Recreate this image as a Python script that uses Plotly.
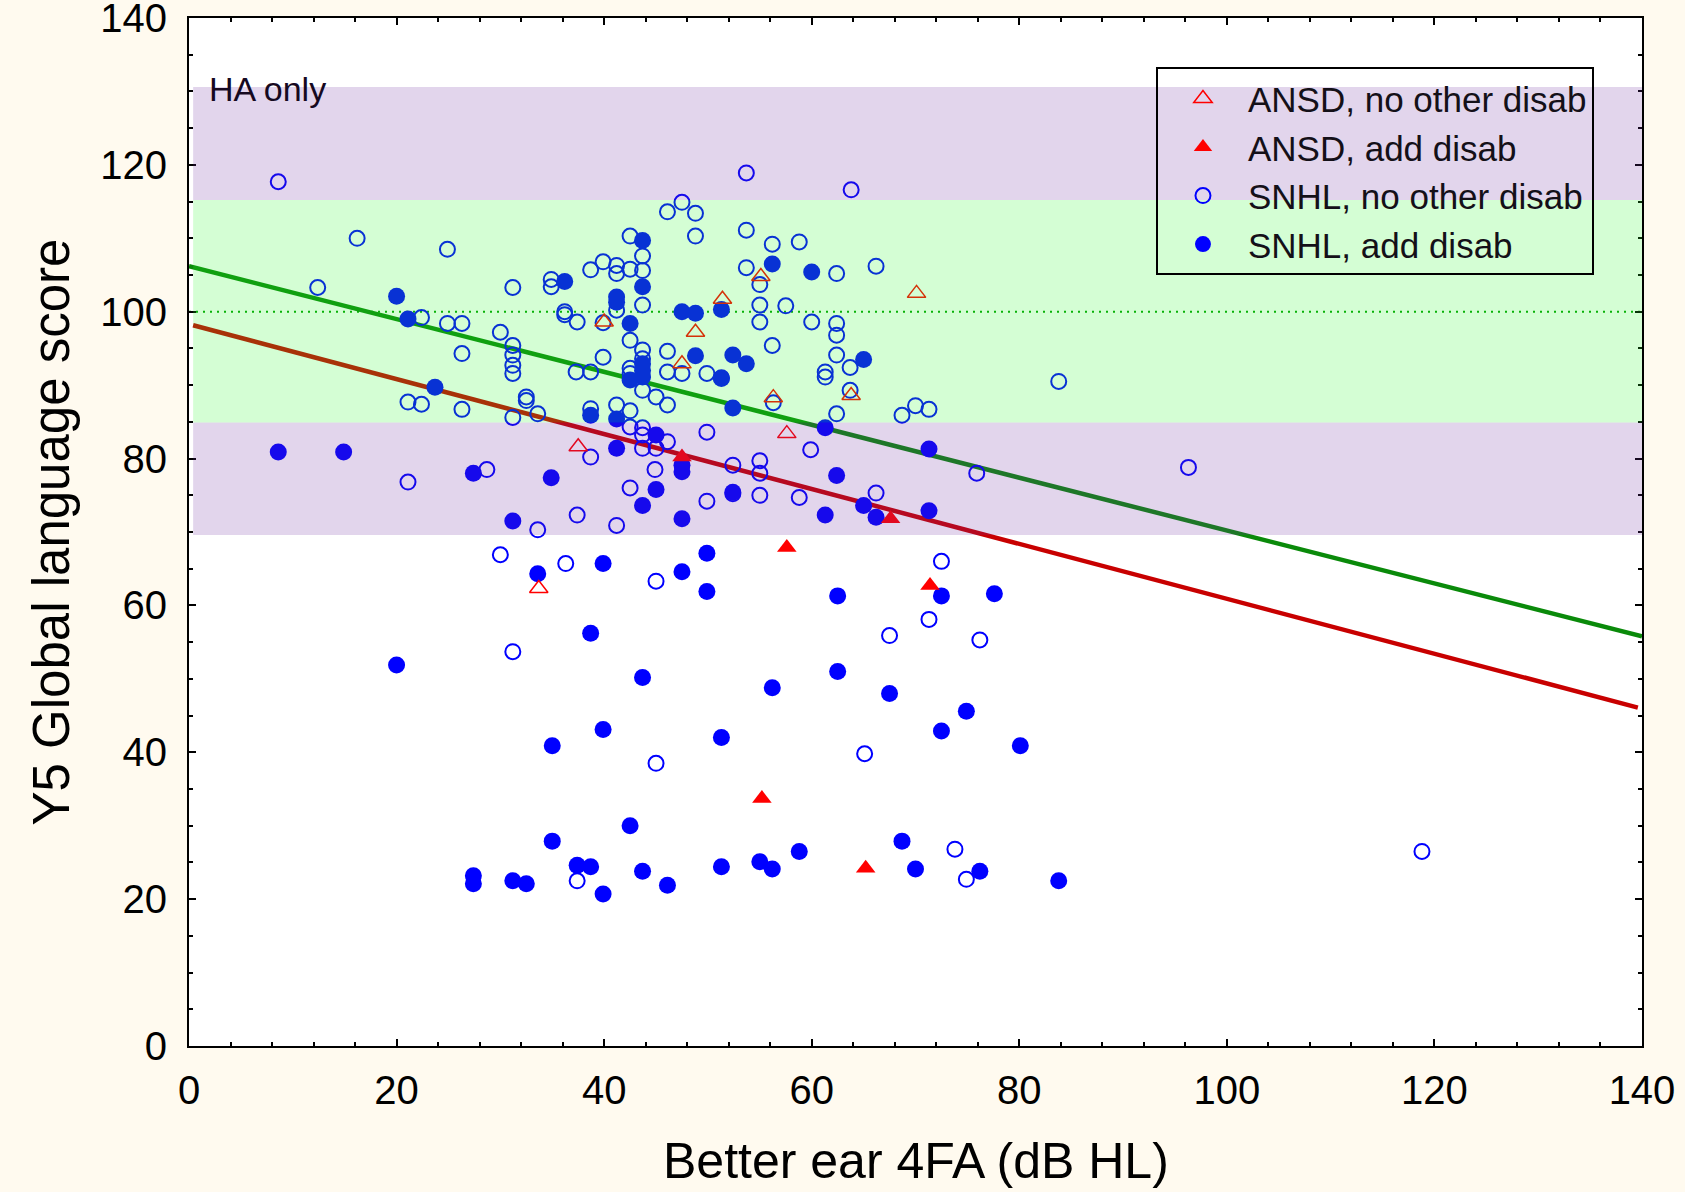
import plotly.graph_objects as go

# ---------------- data ----------------
snhl_open_x = [8.6, 16.2, 24.9, 12.4, 31.2, 34.9, 34.9, 36.2, 36.2, 37.4, 22.4, 24.9, 26.3, 30.0,
               31.2, 31.2, 31.2, 31.2, 26.3, 37.3, 21.1, 22.4, 26.3, 32.5, 32.5, 33.6, 31.2, 28.7,
               21.1, 37.4, 33.6, 30.0, 36.3, 31.2, 37.4,
               38.7, 38.7, 38.7, 38.7, 53.7, 63.8, 47.5, 46.1, 48.8, 48.8, 53.7, 42.5, 43.7, 39.9,
               41.2, 41.2, 42.5, 43.7, 56.2, 58.8, 53.7, 55.0, 62.4, 66.2, 43.7, 41.2, 39.9, 55.0,
               57.5, 55.0, 60.0, 62.4, 62.4, 56.2, 42.5, 39.9, 43.7, 46.1, 62.4, 63.7, 42.5, 42.5,
               46.1, 47.5, 49.9, 51.3, 61.3, 61.3, 63.7, 43.7, 45.0, 46.1, 56.3, 62.4, 68.7, 70.0,
               71.3, 41.2, 42.5, 42.5, 43.7, 43.7, 45.0, 46.1, 43.7, 49.9, 52.4, 55.0, 55.0, 59.9,
               44.9, 42.5, 49.9, 52.4, 55.0, 58.8, 66.2, 41.2, 75.9, 43.7,
               45.0, 72.5, 71.3, 67.5, 76.2, 45.0, 65.1, 73.8, 74.9, 83.8, 96.3, 118.8]
snhl_open_y = [117.7, 110.0, 108.5, 103.3, 103.3, 104.4, 103.4, 100.0, 99.6, 98.6, 99.2, 98.4, 98.4, 97.2,
               95.4, 94.1, 92.7, 91.6, 94.3, 91.8, 87.7, 87.4, 86.7, 88.4, 87.9, 86.1, 85.6, 78.5,
               76.8, 72.3, 70.3, 66.9, 65.7, 53.7, 22.5,
               105.7, 91.8, 86.8, 80.2, 118.9, 116.6, 114.9, 113.6, 113.4, 110.3, 111.1, 110.3, 107.6, 106.8,
               106.3, 105.2, 105.8, 105.6, 109.2, 109.5, 106.0, 103.7, 105.2, 106.2, 100.9, 100.2, 98.5, 100.9,
               100.8, 98.6, 98.6, 98.4, 96.8, 95.4, 96.1, 93.8, 94.8, 94.6, 94.1, 92.4, 92.3, 91.6,
               91.8, 91.6, 91.6, 91.0, 91.8, 91.1, 89.3, 89.3, 88.4, 87.3, 87.6, 86.1, 85.9, 87.2,
               86.7, 87.3, 86.5, 84.3, 84.2, 83.2, 81.4, 82.3, 81.4, 83.6, 79.1, 79.7, 78.0, 81.2,
               78.5, 76.0, 74.2, 75.2, 75.0, 74.7, 75.3, 70.9, 78.0, 93.6,
               63.3, 66.0, 58.1, 55.9, 55.3, 38.5, 39.8, 26.8, 22.7, 90.5, 78.8, 26.5]

snhl_add_x = [20.0, 21.1, 23.7, 36.2, 38.7, 8.6, 14.9, 27.4, 34.9, 31.2,
              43.7, 56.2, 60.0, 43.7, 41.2, 41.2, 47.5, 48.8, 51.3, 42.5, 43.7, 43.7, 43.7, 42.5,
              48.8, 52.4, 53.7, 65.0, 51.3, 52.4, 41.2, 61.3, 45.0, 41.2, 47.5, 47.5, 71.3, 62.4,
              45.0, 52.4, 43.7, 47.5, 61.3, 65.0, 66.2, 71.3,
              33.6, 39.9, 38.7, 20.0, 43.7, 39.9, 35.0, 42.5, 35.0, 37.4, 38.7, 43.7, 27.4, 27.4,
              31.2, 32.5, 39.9, 46.1,
              49.9, 47.5, 49.9, 62.5, 72.5, 77.6, 56.2, 62.5, 67.5, 74.9, 72.5, 80.1, 51.3, 68.7,
              51.3, 55.0, 56.2, 58.8, 70.0, 76.2, 83.8]
snhl_add_y = [102.1, 99.0, 89.7, 104.1, 85.9, 80.9, 80.9, 78.0, 77.4, 71.5,
              109.7, 106.5, 105.4, 103.4, 102.0, 101.3, 100.0, 99.8, 100.3, 98.4, 92.9, 92.0, 91.1, 90.7,
              94.0, 94.1, 92.9, 93.5, 90.9, 86.9, 85.4, 84.2, 83.2, 81.4, 79.1, 78.2, 81.3, 77.7,
              75.8, 75.4, 73.6, 71.8, 72.3, 73.6, 72.0, 72.9,
              64.3, 65.7, 56.2, 51.9, 50.2, 43.1, 40.9, 30.0, 27.9, 24.6, 24.4, 23.8, 23.2, 22.1,
              22.5, 22.1, 20.7, 21.9,
              67.1, 64.6, 61.9, 61.3, 61.3, 61.6, 48.8, 51.0, 48.0, 45.6, 42.9, 40.9, 42.0, 27.9,
              24.4, 25.1, 24.1, 26.5, 24.1, 23.8, 22.5]

ansd_open_x = [55.1, 51.4, 40.0, 48.8, 70.1, 47.5, 56.3, 63.8, 57.6, 37.5, 33.7]
ansd_open_y = [104.8, 101.7, 98.6, 97.2, 102.5, 92.9, 88.3, 88.6, 83.4, 81.6, 62.3]

ansd_add_x = [47.5, 67.6, 57.6, 71.4, 55.2, 65.2]
ansd_add_y = [80.2, 71.8, 67.9, 62.7, 33.7, 24.2]

# regression lines (intercept, slope) and reference bands
green_x = [0, 140]
red_x = [0.4, 139.6]
green_fit = (106.2, -0.36)
red_fit = (98.3, -0.374)
norm_x = [0, 140]
norm_mean = 100
band_purple = [(69.6, 84.9), (115.2, 130.6)]
band_green = [(84.9, 115.2)]

FONT = "Liberation Sans, Arial, sans-serif"

fig = go.Figure()

# dotted norm line
fig.add_trace(go.Scatter(x=norm_x, y=[norm_mean for _ in norm_x], mode="lines",
                         line=dict(color="#00A000", width=2, dash="2px,5px"),
                         showlegend=False, hoverinfo="skip"))

fig.add_trace(go.Scatter(x=green_x, y=[green_fit[0] + green_fit[1] * v for v in green_x], mode="lines",
                         line=dict(color="#0A8A0A", width=4.5), showlegend=False))
fig.add_trace(go.Scatter(x=red_x, y=[red_fit[0] + red_fit[1] * v for v in red_x], mode="lines",
                         line=dict(color="#C80000", width=4.5), showlegend=False))

fig.add_trace(go.Scatter(x=snhl_open_x, y=snhl_open_y, mode="markers", name="SNHL, no other disab",
                         marker=dict(symbol="circle-open", size=15, color="#0000FF", line=dict(width=2)),
                         legendrank=3))
fig.add_trace(go.Scatter(x=snhl_add_x, y=snhl_add_y, mode="markers", name="SNHL, add disab",
                         marker=dict(symbol="circle", size=17, color="#0000FF", line=dict(width=0)),
                         legendrank=4))
fig.add_trace(go.Scatter(x=ansd_open_x, y=ansd_open_y, mode="markers", name="ANSD, no other disab",
                         marker=dict(symbol="triangle-up-open", size=16, color="#FF0000", line=dict(width=1.5)),
                         legendrank=1))
fig.add_trace(go.Scatter(x=ansd_add_x, y=ansd_add_y, mode="markers", name="ANSD, add disab",
                         marker=dict(symbol="triangle-up", size=17, color="#FF0000", line=dict(width=0)),
                         legendrank=2))

shapes = []
for lo, hi in band_purple:
    shapes.append(dict(type="rect", xref="x", yref="y", x0=0.4, x1=140, y0=lo, y1=hi,
                       fillcolor="rgb(110,45,160)", opacity=0.2, line=dict(width=0), layer="above"))
for lo, hi in band_green:
    shapes.append(dict(type="rect", xref="x", yref="y", x0=0.4, x1=140, y0=lo, y1=hi,
                       fillcolor="rgb(40,250,40)", opacity=0.2, line=dict(width=0), layer="above"))

axis_common = dict(
    showline=True, linecolor="black", linewidth=2, mirror="allticks",
    ticks="inside", ticklen=7, tickwidth=1.5, tickcolor="black",
    showgrid=False, zeroline=False, ticklabeloverflow="allow", automargin=False,
    tickfont=dict(family=FONT, size=40, color="black"),
)

fig.update_layout(
    width=1685, height=1192,
    margin=dict(l=189, r=43, t=18, b=146),
    paper_bgcolor="#FFFAEF", plot_bgcolor="white",
    shapes=shapes,
    xaxis=dict(range=[0, 140], tick0=0, dtick=20,
               minor=dict(dtick=4, ticks="inside", ticklen=4, tickwidth=1.5, tickcolor="black"),
               ticklabelstandoff=8,
               **axis_common),
    yaxis=dict(range=[0, 140], tick0=0, dtick=20,
               minor=dict(dtick=5, ticks="inside", ticklen=4, tickwidth=1.5, tickcolor="black"),
               ticklabelstandoff=12,
               title=dict(text="Y5 Global language score", font=dict(family=FONT, size=51, color="black"),
                          standoff=14),
               **axis_common),
    legend=dict(x=0.6655, xanchor="left", y=0.952, yanchor="top",
                bgcolor="rgba(0,0,0,0)", bordercolor="black", borderwidth=2,
                font=dict(family=FONT, size=35, color="#141018"),
                itemwidth=80, tracegroupgap=0),
    annotations=[
        dict(x=1.7, y=130.3, xref="x", yref="y", text="HA only", showarrow=False,
             xanchor="left", yanchor="middle",
             font=dict(family=FONT, size=34, color="#16091F")),
        dict(x=0.5, y=-0.112, xref="paper", yref="paper", text="Better ear 4FA (dB HL)",
             showarrow=False, xanchor="center", yanchor="middle",
             font=dict(family=FONT, size=50, color="black")),
    ],
    showlegend=True,
)

fig.write_html("out.html", config={"displayModeBar": False},
               post_script="document.body.style.margin='0';document.body.style.overflow='hidden';")
